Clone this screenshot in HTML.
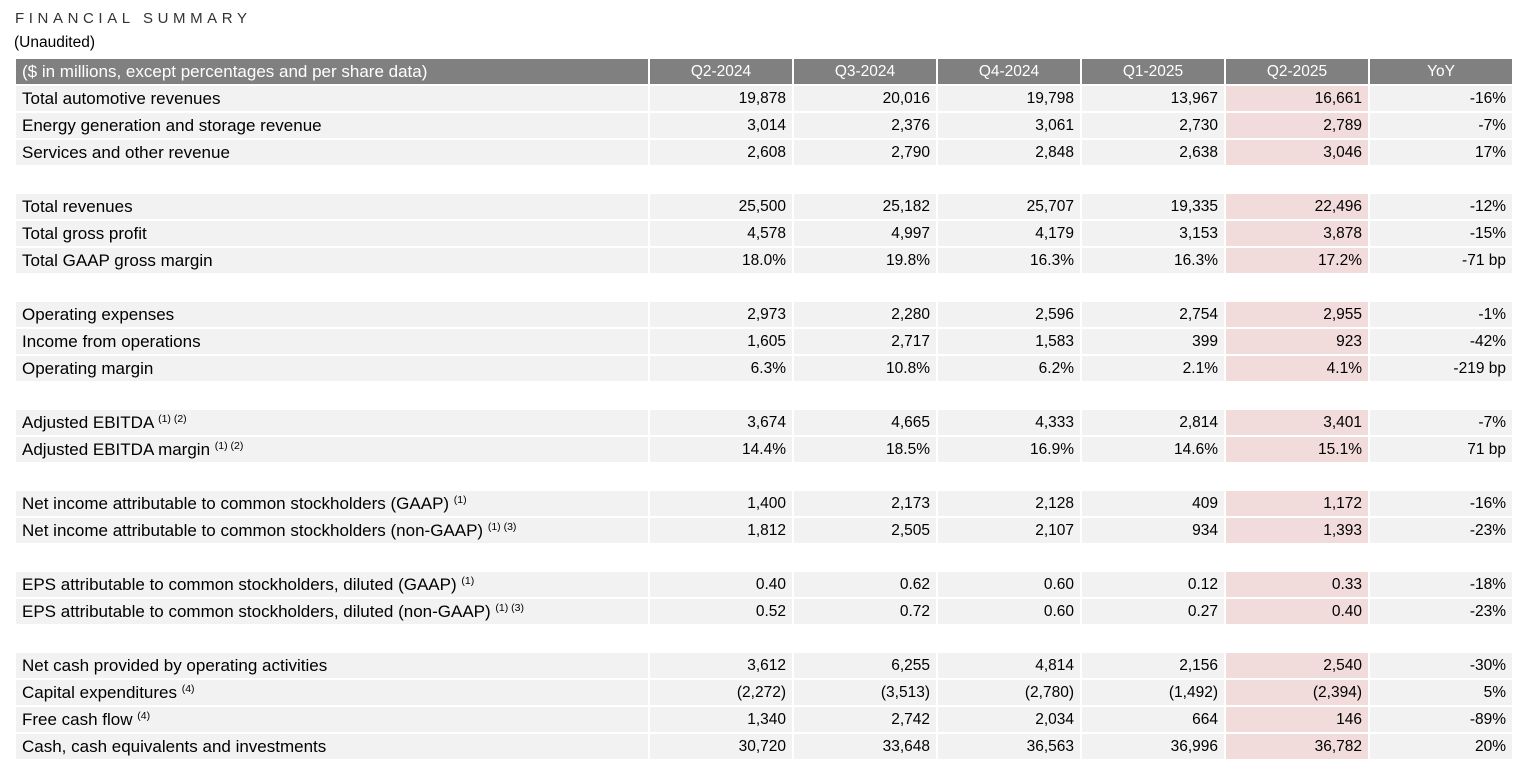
<!DOCTYPE html>
<html><head><meta charset="utf-8"><style>
body{margin:0;background:#fff;width:1536px;height:768px;overflow:hidden;font-family:"Liberation Sans",sans-serif;color:#000}
.t1{position:absolute;left:15px;top:10px;font-size:15px;letter-spacing:4.6px;color:#333}
.t2{position:absolute;left:14px;top:34px;font-size:15.5px;color:#000}
table{position:absolute;left:14px;top:57px;border-collapse:separate;border-spacing:2px;table-layout:fixed}
td{height:25px;padding:0 6px;font-size:15.5px;background:#f2f2f2;text-align:right;white-space:nowrap;box-sizing:border-box;line-height:25px}
td:first-child{text-align:left;width:632px;font-size:17px}
td{width:142px}
td.p{background:#f2dcdb}
tr.h td{background:#808080;color:#fff;text-align:center}
tr.h td:first-child{text-align:left}
tr.b td{background:#fff}
sup{font-size:10.5px;vertical-align:6px;line-height:0}
</style></head><body>
<div class="t1">FINANCIAL SUMMARY</div>
<div class="t2">(Unaudited)</div>
<table>
<tr class="h"><td>($ in millions, except percentages and per share data)</td><td>Q2-2024</td><td>Q3-2024</td><td>Q4-2024</td><td>Q1-2025</td><td>Q2-2025</td><td>YoY</td></tr>
<tr><td>Total automotive revenues</td><td>19,878</td><td>20,016</td><td>19,798</td><td>13,967</td><td class="p">16,661</td><td>-16%</td></tr>
<tr><td>Energy generation and storage revenue</td><td>3,014</td><td>2,376</td><td>3,061</td><td>2,730</td><td class="p">2,789</td><td>-7%</td></tr>
<tr><td>Services and other revenue</td><td>2,608</td><td>2,790</td><td>2,848</td><td>2,638</td><td class="p">3,046</td><td>17%</td></tr>
<tr class="b"><td></td><td></td><td></td><td></td><td></td><td></td><td></td></tr>
<tr><td>Total revenues</td><td>25,500</td><td>25,182</td><td>25,707</td><td>19,335</td><td class="p">22,496</td><td>-12%</td></tr>
<tr><td>Total gross profit</td><td>4,578</td><td>4,997</td><td>4,179</td><td>3,153</td><td class="p">3,878</td><td>-15%</td></tr>
<tr><td>Total GAAP gross margin</td><td>18.0%</td><td>19.8%</td><td>16.3%</td><td>16.3%</td><td class="p">17.2%</td><td>-71 bp</td></tr>
<tr class="b"><td></td><td></td><td></td><td></td><td></td><td></td><td></td></tr>
<tr><td>Operating expenses</td><td>2,973</td><td>2,280</td><td>2,596</td><td>2,754</td><td class="p">2,955</td><td>-1%</td></tr>
<tr><td>Income from operations</td><td>1,605</td><td>2,717</td><td>1,583</td><td>399</td><td class="p">923</td><td>-42%</td></tr>
<tr><td>Operating margin</td><td>6.3%</td><td>10.8%</td><td>6.2%</td><td>2.1%</td><td class="p">4.1%</td><td>-219 bp</td></tr>
<tr class="b"><td></td><td></td><td></td><td></td><td></td><td></td><td></td></tr>
<tr><td>Adjusted EBITDA <sup>(1) (2)</sup></td><td>3,674</td><td>4,665</td><td>4,333</td><td>2,814</td><td class="p">3,401</td><td>-7%</td></tr>
<tr><td>Adjusted EBITDA margin <sup>(1) (2)</sup></td><td>14.4%</td><td>18.5%</td><td>16.9%</td><td>14.6%</td><td class="p">15.1%</td><td>71 bp</td></tr>
<tr class="b"><td></td><td></td><td></td><td></td><td></td><td></td><td></td></tr>
<tr><td>Net income attributable to common stockholders (GAAP) <sup>(1)</sup></td><td>1,400</td><td>2,173</td><td>2,128</td><td>409</td><td class="p">1,172</td><td>-16%</td></tr>
<tr><td>Net income attributable to common stockholders (non-GAAP) <sup>(1) (3)</sup></td><td>1,812</td><td>2,505</td><td>2,107</td><td>934</td><td class="p">1,393</td><td>-23%</td></tr>
<tr class="b"><td></td><td></td><td></td><td></td><td></td><td></td><td></td></tr>
<tr><td>EPS attributable to common stockholders, diluted (GAAP) <sup>(1)</sup></td><td>0.40</td><td>0.62</td><td>0.60</td><td>0.12</td><td class="p">0.33</td><td>-18%</td></tr>
<tr><td>EPS attributable to common stockholders, diluted (non-GAAP) <sup>(1) (3)</sup></td><td>0.52</td><td>0.72</td><td>0.60</td><td>0.27</td><td class="p">0.40</td><td>-23%</td></tr>
<tr class="b"><td></td><td></td><td></td><td></td><td></td><td></td><td></td></tr>
<tr><td>Net cash provided by operating activities</td><td>3,612</td><td>6,255</td><td>4,814</td><td>2,156</td><td class="p">2,540</td><td>-30%</td></tr>
<tr><td>Capital expenditures <sup>(4)</sup></td><td>(2,272)</td><td>(3,513)</td><td>(2,780)</td><td>(1,492)</td><td class="p">(2,394)</td><td>5%</td></tr>
<tr><td>Free cash flow <sup>(4)</sup></td><td>1,340</td><td>2,742</td><td>2,034</td><td>664</td><td class="p">146</td><td>-89%</td></tr>
<tr><td>Cash, cash equivalents and investments</td><td>30,720</td><td>33,648</td><td>36,563</td><td>36,996</td><td class="p">36,782</td><td>20%</td></tr>
</table>
</body></html>
